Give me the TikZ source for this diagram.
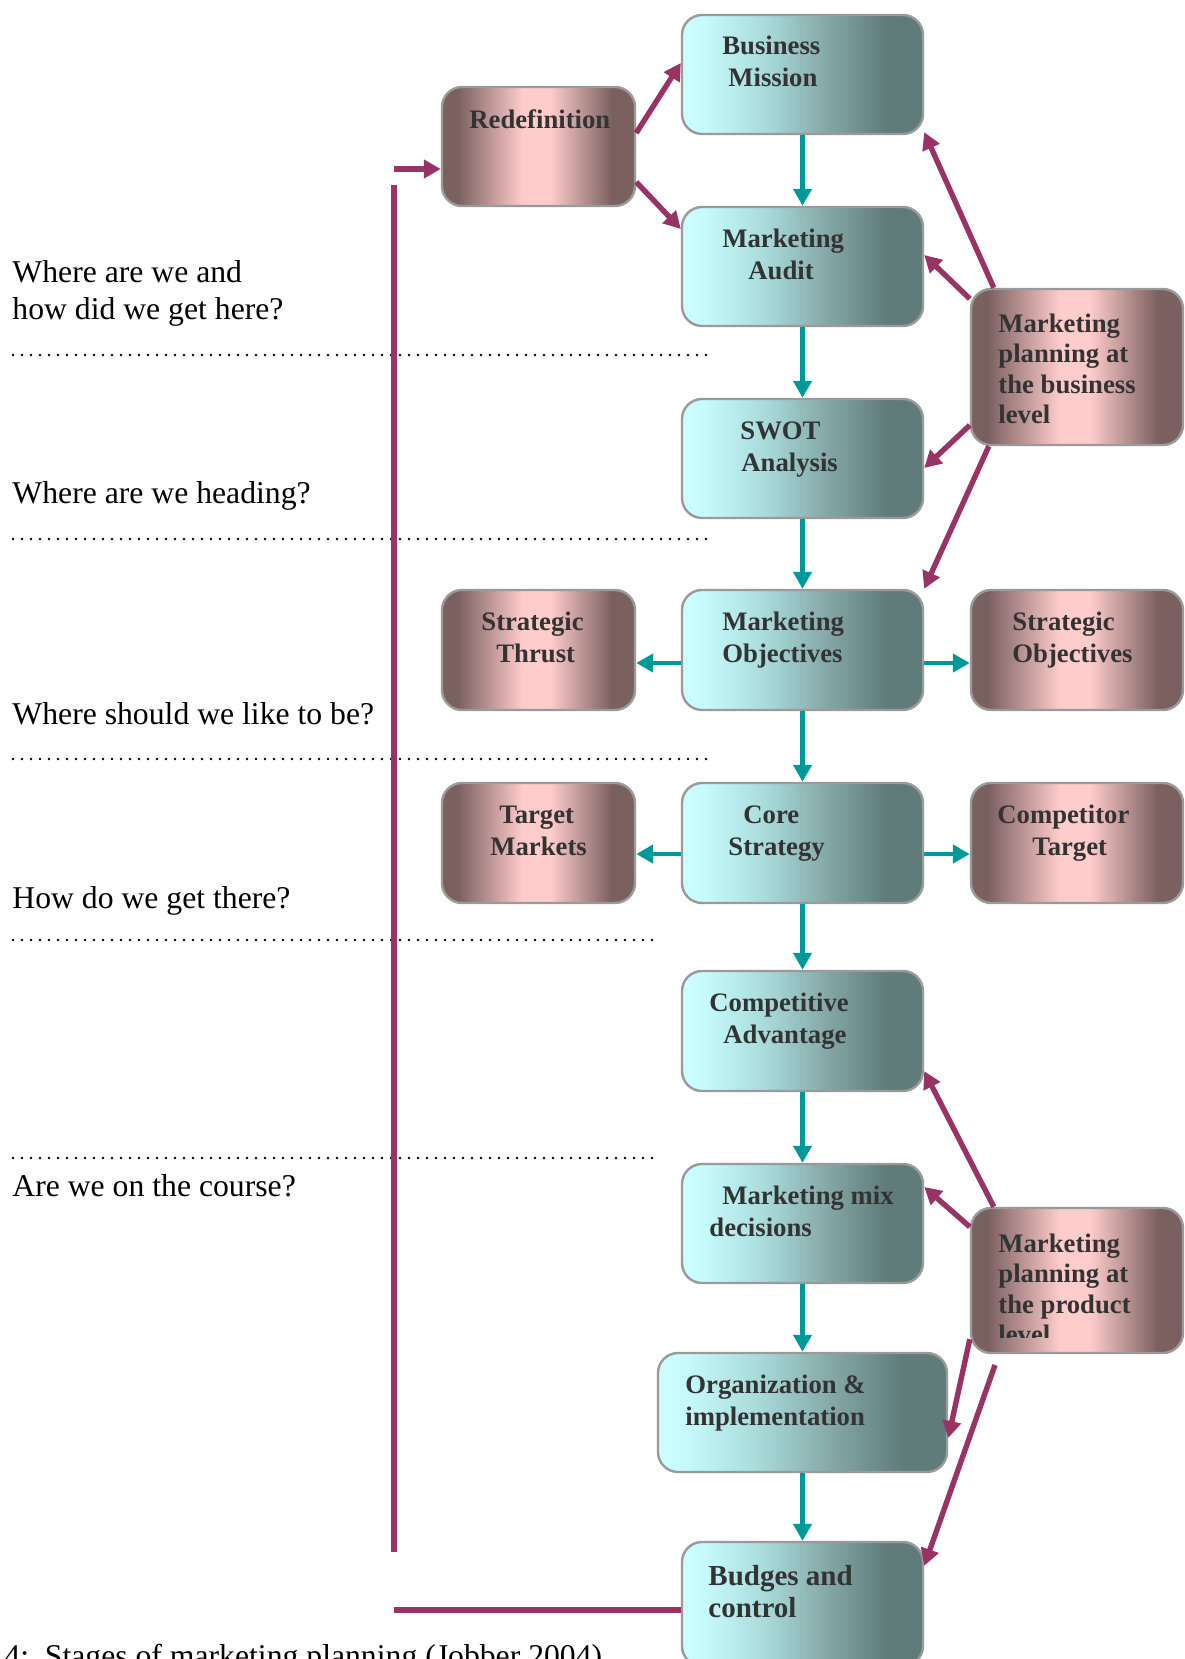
\documentclass[tikz,border=0pt]{standalone}
\usepackage{fontspec}
\setmainfont{Liberation Serif}
\usetikzlibrary{arrows.meta}
\definecolor{tealc}{HTML}{009999}
\definecolor{magc}{HTML}{993366}
\definecolor{bordergray}{HTML}{9A9A9A}
\definecolor{txtc}{HTML}{333333}
\definecolor{cyA}{HTML}{CCFFFF}
\definecolor{cyB}{HTML}{C6FAFA}
\definecolor{cyC}{HTML}{A8DADA}
\definecolor{cyD}{HTML}{84A8A7}
\definecolor{cyE}{HTML}{5F7B7A}
\definecolor{pkA}{HTML}{7B6060}
\definecolor{pkB}{HTML}{FFCCCC}
\pgfdeclarehorizontalshading{cyanshade}{100bp}{color(0bp)=(cyA); color(25bp)=(cyA); color(30bp)=(cyB); color(42.5bp)=(cyC); color(55bp)=(cyD); color(67.5bp)=(cyE); color(100bp)=(cyE)}
\pgfdeclarehorizontalshading{pinkshade}{100bp}{color(0bp)=(pkA); color(25bp)=(pkA); color(29bp)=(pkA); color(46bp)=(pkB); color(53bp)=(pkB); color(69bp)=(pkA); color(100bp)=(pkA)}
\tikzset{
  cbox/.style={rectangle, rounded corners=10pt, draw=bordergray, line width=1.2pt, shade, shading=cyanshade, inner sep=0pt},
  pbox/.style={rectangle, rounded corners=10pt, draw=bordergray, line width=1.2pt, shade, shading=pinkshade, inner sep=0pt},
  btxt/.style={anchor=base west, inner sep=0pt, text=txtc, font=\fontsize{13.35}{16}\selectfont\bfseries},
  btxtL/.style={anchor=base west, inner sep=0pt, text=txtc, font=\fontsize{14.5}{17}\selectfont\bfseries},
  ltxt/.style={anchor=base west, inner sep=0pt, text=black, font=\fontsize{15.85}{18.5}\selectfont},
  tarrow/.style={draw=tealc, line width=2.4pt, -{Triangle[length=8.5pt,width=9pt]}},
  marrow/.style={draw=magc, line width=2.7pt, -{Triangle[length=8.5pt,width=9pt]}},
  mline/.style={draw=magc, line width=2.7pt},
  dotline/.style={line width=1.4pt, dash pattern=on 0pt off 4.5pt, line cap=round},
}
\begin{document}
\begin{tikzpicture}[x=0.5pt,y=-0.5pt]
\useasboundingbox (0,0) rectangle (1184,1659);
\clip (0,0) rectangle (1184,1659);

% boxes
\node[cbox, minimum width=120.5pt, minimum height=59.5pt] (bm) at (802.5,74.5) {};
\node[pbox, minimum width=96.5pt, minimum height=59.5pt] (rd) at (538.5,146.5) {};
\node[cbox, minimum width=120.5pt, minimum height=59.5pt] (ma) at (802.5,266.5) {};
\node[pbox, minimum width=106pt, minimum height=78pt] (mpb) at (1077,367) {};
\node[cbox, minimum width=120.5pt, minimum height=59.5pt] (sw) at (802.5,458.5) {};
\node[pbox, minimum width=96.5pt, minimum height=60pt] (st) at (538.5,650) {};
\node[cbox, minimum width=120.5pt, minimum height=60pt] (mo) at (802.5,650) {};
\node[pbox, minimum width=106pt, minimum height=60pt] (so) at (1077,650) {};
\node[pbox, minimum width=96.5pt, minimum height=60pt] (tm) at (538.5,843) {};
\node[cbox, minimum width=120.5pt, minimum height=60pt] (cs) at (802.5,843) {};
\node[pbox, minimum width=106pt, minimum height=60pt] (ct) at (1077,843) {};
\node[cbox, minimum width=120.5pt, minimum height=60pt] (ca) at (802.5,1031) {};
\node[cbox, minimum width=120.5pt, minimum height=59.5pt] (mm) at (802.5,1223.5) {};
\node[pbox, minimum width=106pt, minimum height=72.5pt] (mpp) at (1077,1280.5) {};
\node[cbox, minimum width=144.5pt, minimum height=59.5pt] (oi) at (802.5,1412.5) {};
\node[cbox, minimum width=120.5pt, minimum height=62pt] (bc) at (802.5,1604) {};

% box texts
\node[btxt] (bm1) at (722,55) {Business};
\node[btxt] (bm2) at (728,87) {Mission};
\node[btxt] (rd1) at (469,128) {Redefinition};
\node[btxt] (ma1) at (722,247) {Marketing};
\node[btxt] (ma2) at (748,279) {Audit};
\node[btxt] (sw1) at (740,439) {SWOT};
\node[btxt] (sw2) at (741,471) {Analysis};
\node[btxt] (st1) at (481,630) {Strategic};
\node[btxt] (st2) at (496,662) {Thrust};
\node[btxt] (mo1) at (722,630) {Marketing};
\node[btxt] (mo2) at (722,662) {Objectives};
\node[btxt] (so1) at (1012,630) {Strategic};
\node[btxt] (so2) at (1012,662) {Objectives};
\node[btxt] (tm1) at (499,823) {Target};
\node[btxt] (tm2) at (490,855) {Markets};
\node[btxt] (cs1) at (743,823) {Core};
\node[btxt] (cs2) at (728,855) {Strategy};
\node[btxt] (ct1) at (997,823) {Competitor};
\node[btxt] (ct2) at (1032,855) {Target};
\node[btxt] (ca1) at (709,1011) {Competitive};
\node[btxt] (ca2) at (723,1043) {Advantage};
\node[btxt] (mm1) at (722,1204) {Marketing mix};
\node[btxt] (mm2) at (709,1236) {decisions};
\node[btxt] (oi1) at (685,1393) {Organization \&};
\node[btxt] (oi2) at (685,1425) {implementation};
\node[btxtL] (bc1) at (708,1585) {Budges and};
\node[btxtL] (bc2) at (708,1617) {control};
\node[btxt] (mb1) at (998,332) {Marketing};
\node[btxt] (mb2) at (998,362.5) {planning at};
\node[btxt] (mb3) at (998,393) {the business};
\node[btxt] (mb4) at (998,423.5) {level};
\node[btxt] (mp1) at (998,1252) {Marketing};
\node[btxt] (mp2) at (998,1282.5) {planning at};
\node[btxt] (mp3) at (998,1313) {the product};
\begin{scope}
\clip (990,1320) rectangle (1180,1337);
\node[btxt] (mp4) at (998,1343.5) {level};
\end{scope}

% left labels
\node[ltxt] (q1a) at (12,282) {Where are we and};
\node[ltxt] (q1b) at (12,319) {how did we get here?};
\node[ltxt] (q2) at (12,503) {Where are we heading?};
\node[ltxt] (q3) at (12,724) {Where should we like to be?};
\node[ltxt] (q4) at (12,908) {How do we get there?};
\node[ltxt] (q5) at (12,1196) {Are we on the course?};
\node[ltxt] (cap) at (4,1666) {4:\ \ Stages of marketing planning (Jobber 2004)};

% dotted separators
\draw[dotline] (13,355) -- (711,355);
\draw[dotline] (13,539) -- (711,539);
\draw[dotline] (13,759) -- (711,759);
\draw[dotline] (13,940) -- (653,940);
\draw[dotline] (13,1158) -- (661,1158);

% teal flow arrows
\draw[tarrow] (bm.south) -- (ma.north);
\draw[tarrow] (ma.south) -- (sw.north);
\draw[tarrow] (sw.south) -- (mo.north);
\draw[tarrow] ([yshift=-6.5pt]mo.west) -- ([yshift=-6.5pt]st.east);
\draw[tarrow] ([yshift=-6.5pt]mo.east) -- ([yshift=-6.5pt]so.west);
\draw[tarrow] (mo.south) -- (cs.north);
\draw[tarrow] ([yshift=-5.5pt]cs.west) -- ([yshift=-5.5pt]tm.east);
\draw[tarrow] ([yshift=-5.5pt]cs.east) -- ([yshift=-5.5pt]ct.west);
\draw[tarrow] (cs.south) -- (ca.north);
\draw[tarrow] (ca.south) -- (mm.north);
\draw[tarrow] (mm.south) -- (oi.north);
\draw[tarrow] (oi.south) -- (bc.north);

% magenta arrows
\draw[marrow] ([yshift=6.75pt]rd.east) -- ([yshift=5.75pt]bm.west);
\draw[marrow] ([yshift=-17.75pt]rd.east) -- ([yshift=18.75pt]ma.west);
\draw[marrow] ([xshift=12pt]mpb.north west) -- ([yshift=1.5pt]bm.south east);
\draw[marrow] ([yshift=-5.5pt]mpb.north west) -- ([yshift=5.75pt]ma.east);
\draw[marrow] ([yshift=10.5pt]mpb.south west) -- ([yshift=-4.75pt]sw.east);
\draw[marrow] ([xshift=9.5pt]mpb.south west) -- (mo.north east);
\draw[marrow] ([xshift=12pt]mpp.north west) -- ([yshift=10.5pt]ca.south east);
\draw[marrow] ([yshift=-10pt]mpp.north west) -- ([yshift=18.25pt]mm.east);
\draw[marrow] ([yshift=7.5pt]mpp.south west) -- ([yshift=-12.75pt]oi.east);
\coordinate (fs) at (995,1365);
\draw[marrow] (fs) -- ([yshift=-12.5pt]bc.north east);

% feedback loop
\coordinate (vt) at (394,185);
\coordinate (vb) at (394,1552);
\draw[mline] (vt) -- (vb);
\coordinate (ha) at (394,169);
\draw[marrow] (ha) -- ([yshift=-11.25pt]rd.west);
\coordinate (hb) at (394,1610);
\draw[mline] (hb) -- ([yshift=-3pt]bc.west);
\end{tikzpicture}
\end{document}
